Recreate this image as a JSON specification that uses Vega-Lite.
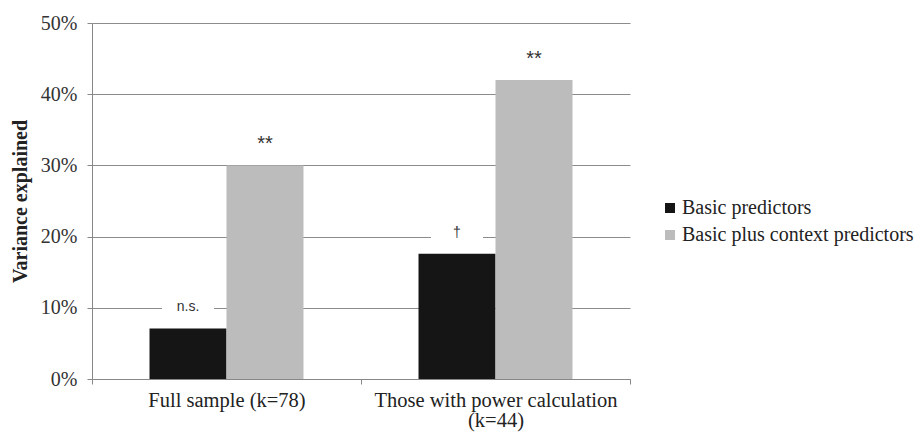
{
  "$schema": "https://vega.github.io/schema/vega-lite/v6.json",
  "autosize": {"type": "none"},
  "padding": {"left": 92, "top": 23, "right": 290, "bottom": 56},
  "width": 538,
  "height": 356,
  "background": "white",
  "config": {"view": {"stroke": null}},
  "data": {
    "values": [
      {"group": "Full sample (k=78)", "series": "Basic predictors", "value": 0.071, "label": "n.s."},
      {"group": "Full sample (k=78)", "series": "Basic plus context predictors", "value": 0.30, "label": "**"},
      {"group": "Those with power calculation (k=44)", "series": "Basic predictors", "value": 0.176, "label": "†"},
      {"group": "Those with power calculation (k=44)", "series": "Basic plus context predictors", "value": 0.42, "label": "**"}
    ]
  },
  "encoding": {
    "x": {
      "field": "group",
      "type": "nominal",
      "sort": null,
      "scale": {"paddingInner": 0, "paddingOuter": 0},
      "axis": {
        "title": null,
        "labelAngle": 0,
        "labelFont": "Liberation Serif",
        "labelFontSize": 20.5,
        "labelColor": "#222222",
        "labelPadding": 6,
        "labelLineHeight": 20,
        "labelBaseline": "top",
        "labelLimit": 400,
        "labelExpr": "datum.value == 'Those with power calculation (k=44)' ? ['Those with power calculation', '(k=44)'] : datum.label",
        "tickBand": "extent",
        "tickSize": 5,
        "tickColor": "#888888",
        "domainColor": "#888888",
        "grid": false
      }
    },
    "xOffset": {
      "field": "series",
      "type": "nominal",
      "sort": ["Basic predictors", "Basic plus context predictors"],
      "scale": {"paddingInner": 0, "paddingOuter": 0.747}
    },
    "y": {
      "field": "value",
      "type": "quantitative",
      "scale": {"domain": [0, 0.5], "nice": false},
      "axis": {
        "title": "Variance explained",
        "titleFont": "Liberation Serif",
        "titleFontSize": 20,
        "titleFontWeight": "bold",
        "titleColor": "#222222",
        "titlePadding": 10,
        "values": [0, 0.1, 0.2, 0.3, 0.4, 0.5],
        "format": ".0%",
        "labelFont": "Liberation Serif",
        "labelFontSize": 20,
        "labelColor": "#333333",
        "labelPadding": 10,
        "tickSize": 5,
        "tickColor": "#888888",
        "domainColor": "#888888",
        "gridColor": "#8c8c8c",
        "gridWidth": 1.2
      }
    }
  },
  "layer": [
    {
      "mark": {"type": "bar"},
      "encoding": {
        "color": {
          "field": "series",
          "type": "nominal",
          "sort": ["Basic predictors", "Basic plus context predictors"],
          "scale": {"range": ["#151515", "#bcbcbc"]},
          "legend": {
            "title": null,
            "orient": "none",
            "legendX": 568,
            "legendY": 175,
            "symbolType": "square",
            "symbolSize": 100,
            "symbolStrokeWidth": 0,
            "labelFont": "Liberation Serif",
            "labelFontSize": 20,
            "labelColor": "#222222",
            "labelOffset": 2,
            "labelLimit": 400,
            "rowPadding": 7
          }
        }
      }
    },
    {
      "mark": {"type": "point", "shape": "M-1,-0.3H1V0.3H-1Z", "filled": true, "color": "white", "opacity": 1, "size": 2704, "yOffset": -21, "strokeWidth": 0}
    },
    {
      "mark": {"type": "text", "font": "Liberation Sans", "color": "#333333", "baseline": "middle", "dy": -21},
      "encoding": {
        "text": {"field": "label"},
        "size": {"condition": {"test": "datum.label == '**'", "value": 20}, "value": 14}
      }
    }
  ]
}
